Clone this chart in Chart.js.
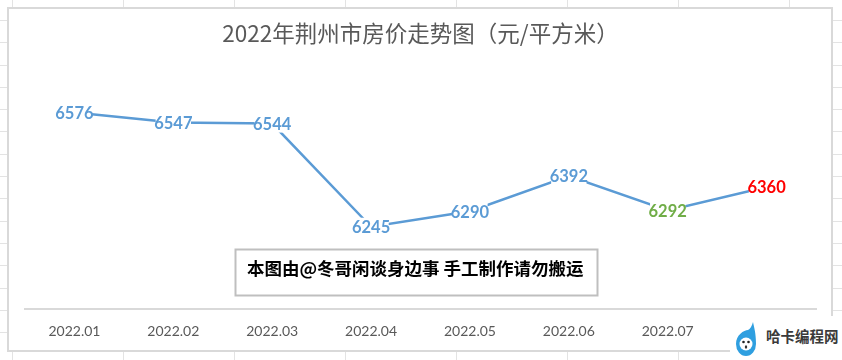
<!DOCTYPE html>
<html><head><meta charset="utf-8">
<script src="https://cdn.jsdelivr.net/npm/chart.js@4/dist/chart.umd.min.js"></script>
<style>
html,body{margin:0;padding:0;background:#fff}
#sheet{position:relative;width:842px;height:360px;overflow:hidden;background-color:#fff;
background-image:
 repeating-linear-gradient(to right,transparent 0,transparent 12px,#e3e3e3 12px,#e3e3e3 13px,transparent 13px,transparent 111px),
 repeating-linear-gradient(to bottom,transparent 0,transparent 20px,#e3e3e3 20px,#e3e3e3 21px,transparent 21px,transparent 22.3px);
background-size:842px 360px,842px 345px;background-repeat:no-repeat;}
#box{position:absolute;left:7px;top:7px;width:822px;height:341px;border:2px solid #d9d9d9;background:#fff}
#c{position:absolute;left:-9px;top:-9px}
#mark{position:absolute;left:730px;top:316px;width:112px;height:44px;background:#fff}
#mark svg{position:absolute;left:5px;top:5px}
#mark span{position:absolute;left:36px;top:10px;font:bold 14.5px/20px "Noto Sans CJK SC";color:#3a3a3a;white-space:nowrap}
</style></head><body>
<div id="sheet"><div id="box"><canvas id="c" width="842" height="360"></canvas></div>
<div id="mark"><svg width="22" height="36" viewBox="0 0 22 36">
<path d="M18 1 C19 6 21 12 21 23 A10 12 0 0 1 1 23 C1 14 9 9 13 9 C15 8 17 5 18 1Z" fill="#2f9fe0"/>
<ellipse cx="11" cy="23" rx="6.5" ry="6.5" fill="#fff"/>
<circle cx="8.5" cy="21" r="1.3" fill="#222"/><circle cx="13.5" cy="21" r="1.3" fill="#222"/>
<ellipse cx="11" cy="26" rx="1.2" ry="1.8" fill="#333"/></svg><span id="markLabel"></span></div></div>
<script>
const titleText='2022年荆州市房价走势图（元/平方米）';
const categories=['2022.01','2022.02','2022.03','2022.04','2022.05','2022.06','2022.07','2022.08'];
const prices=[6576,6547,6544,6245,6290,6392,6292,6360];
const labelColors=['#5b9bd5','#5b9bd5','#5b9bd5','#5b9bd5','#5b9bd5','#5b9bd5','#70ad47','#ff0000'];
const noteText='本图由@冬哥闲谈身边事 手工制作请勿搬运';
const markText='哈卡编程网';
document.getElementById('markLabel').textContent=markText;

const labelPlugin={id:'labels',afterDatasetsDraw(ch){
 const g=ch.ctx,pts=ch.getDatasetMeta(0).data;
 g.save();g.font='bold 16.5px Lato';g.textAlign='center';g.textBaseline='middle';
 pts.forEach((p,i)=>{const t=String(prices[i]),w=g.measureText(t).width-3;
  g.fillStyle='#fff';g.fillRect(p.x-w/2,p.y-9,w,18);
  g.fillStyle=labelColors[i];g.fillText(t,p.x,p.y+1);});
 g.strokeStyle='#bfbfbf';g.lineWidth=2;g.fillStyle='#fff';
 g.fillRect(235.5,249.5,362,46);g.strokeRect(235.5,249.5,362,46);
 g.fillStyle='#000';g.textAlign='left';g.font='bold 17.5px "Noto Sans CJK SC"';
 g.fillText(noteText,247,268);
 g.restore();
}};
new Chart(document.getElementById('c'),{
 type:'line',
 data:{labels:categories,datasets:[{data:prices,borderColor:'#5b9bd5',borderWidth:2.5,pointRadius:0,tension:0,fill:false}]},
 plugins:[labelPlugin],
 options:{responsive:false,animation:false,
  layout:{padding:{left:25,right:26,top:0,bottom:14}},
  plugins:{legend:{display:false},tooltip:{enabled:false},
   title:{display:true,text:titleText,color:'#595959',font:{family:'"Noto Sans CJK SC"',size:22.5,weight:'normal'},padding:{top:20,bottom:0}}},
  scales:{
   x:{offset:true,grid:{display:false},border:{color:'#d9d9d9',width:2},
      ticks:{color:'#595959',font:{family:'Lato',size:14},padding:6,maxRotation:0,autoSkip:false}},
   y:{display:false,min:6006,max:6766}
  }}
});
</script>
</body></html>
